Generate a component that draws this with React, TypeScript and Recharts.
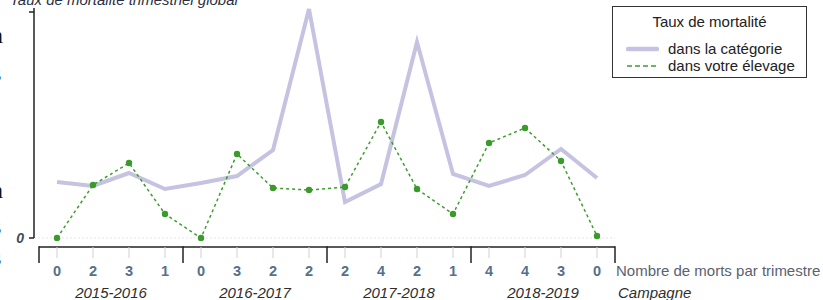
import React from 'react';
import { LineChart, Line, XAxis, YAxis, Legend, ReferenceLine } from 'recharts';

const quarterIds = ['q1','q2','q3','q4','q5','q6','q7','q8','q9','q10','q11','q12','q13','q14','q15','q16'];
const deathCounts = ['0','2','3','1','0','3','2','2','2','4','2','1','4','4','3','0'];
const campaigns = ['2015-2016', '2016-2017', '2017-2018', '2018-2019'];
const categoryRate = [2.8, 2.6, 3.25, 2.45, 2.75, 3.1, 4.4, 11.45, 1.8, 2.7, 9.8, 3.2, 2.6, 3.15, 4.45, 3.0];
const farmRate = [0, 2.65, 3.75, 1.2, 0, 4.2, 2.5, 2.4, 2.55, 5.8, 2.45, 1.2, 4.75, 5.5, 3.85, 0.1];
const yTicks = [0, 11.3];

const data = quarterIds.map((id, i) => ({
  id,
  count: deathCounts[i],
  categorie: categoryRate[i],
  elevage: farmRate[i],
}));

const FONT = '"Liberation Sans", Arial, sans-serif';
const PURPLE = '#c5c3e1';
const GREEN = '#3e9d2f';

const XTick = (props: any) => {
  const { x, y, payload } = props;
  const i: number = payload.index ?? props.index;
  const half = 18;
  const last = i === deathCounts.length - 1;
  const ay = y + 9;
  return (
    <g>
      <line x1={x - half} x2={x + half} y1={ay} y2={ay} stroke="#222" strokeWidth={1.5} />
      <line x1={x} x2={x} y1={ay} y2={ay + 11} stroke="#d0d0d0" strokeWidth={1} />
      {i % 4 === 0 && (
        <line x1={x - half} x2={x - half} y1={ay - 0.75} y2={ay + 16} stroke="#222" strokeWidth={1.5} />
      )}
      {last && (
        <line x1={x + half} x2={x + half} y1={ay - 0.75} y2={ay + 16} stroke="#222" strokeWidth={1.5} />
      )}
      <text x={x} y={y + 38} textAnchor="middle" fontFamily={FONT} fontSize={14.5} fontWeight="bold" fill="#55708c">
        {deathCounts[i]}
      </text>
      {i % 4 === 1 && (
        <text x={x + half} y={y + 60} textAnchor="middle" fontFamily={FONT} fontSize={15} fontStyle="italic" fill="#2e2e2e">
          {campaigns[Math.floor(i / 4)]}
        </text>
      )}
      {last && (
        <g>
          <text x={x + half + 1} y={y + 38} textAnchor="start" fontFamily={FONT} fontSize={15} fill="#5a6172">
            Nombre de morts par trimestre
          </text>
          <text x={x + half + 3} y={y + 60} textAnchor="start" fontFamily={FONT} fontSize={15} fontStyle="italic" fill="#2e2e2e">
            Campagne
          </text>
        </g>
      )}
    </g>
  );
};

const LegendBox = (props: any) => {
  const payload = props.payload || [];
  return (
    <div
      style={{
        position: 'relative',
        width: 195,
        height: 72,
        border: '1.5px solid #333',
        boxSizing: 'border-box',
        background: '#fff',
        fontFamily: FONT,
        fontSize: 15,
        color: '#222',
      }}
    >
      <div style={{ position: 'absolute', top: 6, left: 0, width: '100%', textAlign: 'center', lineHeight: '18px' }}>
        Taux de mortalité
      </div>
      {payload.map((p: any, k: number) => (
        <div key={k} style={{ position: 'absolute', left: 13, top: k === 0 ? 33 : 50, height: 18, display: 'flex', alignItems: 'center' }}>
          <svg width={33} height={8} style={{ display: 'block' }}>
            {k === 0 ? (
              <line x1={2} x2={31} y1={4} y2={4} stroke={PURPLE} strokeWidth={4.5} strokeLinecap="round" />
            ) : (
              <line x1={1} x2={32} y1={4} y2={4} stroke={GREEN} strokeWidth={1.5} strokeDasharray="5 3" />
            )}
          </svg>
          <span style={{ marginLeft: 9, lineHeight: '18px' }}>{p.value}</span>
        </div>
      ))}
    </div>
  );
};

export default function App() {
  return (
    <div style={{ position: 'absolute', left: 0, top: 0, width: 823, height: 300, background: '#fff', overflow: 'hidden' }}>
      <LineChart width={823} height={300} data={data} margin={{ top: 8, right: 208, bottom: 0, left: 0 }}>
        <XAxis
          dataKey="id"
          type="category"
          interval={0}
          height={62}
          padding={{ left: 23, right: 18 }}
          axisLine={false}
          tickLine={false}
          tickSize={0}
          tickMargin={0}
          tick={<XTick />}
        />
        <YAxis
          type="number"
          domain={[0, 11.5]}
          ticks={yTicks}
          width={34}
          tickSize={5}
          tickMargin={5}
          axisLine={{ stroke: '#222', strokeWidth: 1.5 }}
          tickLine={{ stroke: '#222', strokeWidth: 1.5 }}
          tickFormatter={(v: number) => (v === 0 ? '0' : '')}
          tick={{ fontFamily: FONT, fontSize: 14, fontStyle: 'italic', fontWeight: 'bold', fill: '#3f4c5c' }}
        />
        <ReferenceLine y={0} stroke="#e4e4e4" strokeDasharray="2 2" />
        <Legend
          layout="vertical"
          align="center"
          verticalAlign="middle"
          content={<LegendBox />}
          wrapperStyle={{ position: 'absolute', left: 612, top: 6, width: 195 }}
        />
        <Line
          dataKey="categorie"
          name="dans la catégorie"
          type="linear"
          stroke={PURPLE}
          strokeWidth={4}
          dot={false}
          isAnimationActive={false}
        />
        <Line
          dataKey="elevage"
          name="dans votre élevage"
          type="linear"
          stroke={GREEN}
          strokeWidth={1.5}
          strokeDasharray="3 3"
          dot={{ r: 3.2, fill: '#3a9a2a', stroke: 'none' }}
          isAnimationActive={false}
        />
      </LineChart>
      <svg width={823} height={300} style={{ position: 'absolute', left: 0, top: 0, pointerEvents: 'none' }}>
        <text x={10} y={5} fontFamily={FONT} fontSize={15} fontStyle="italic" fill="#2a3045">
          Taux de mortalité trimestriel global
        </text>
        <text x={-9} y={43} fontFamily='"Liberation Serif", serif' fontSize={24} fill="#111">n</text>
        <text x={-8} y={81} fontFamily='"Liberation Serif", serif' fontSize={24} fill="#111">s</text>
        <text x={-9} y={198} fontFamily='"Liberation Serif", serif' fontSize={24} fill="#111">n</text>
        <text x={-8} y={234} fontFamily='"Liberation Serif", serif' fontSize={24} fill="#111">s</text>
        <text x={-8} y={265} fontFamily='"Liberation Serif", serif' fontSize={24} fill="#111">s</text>
      </svg>
    </div>
  );
}
